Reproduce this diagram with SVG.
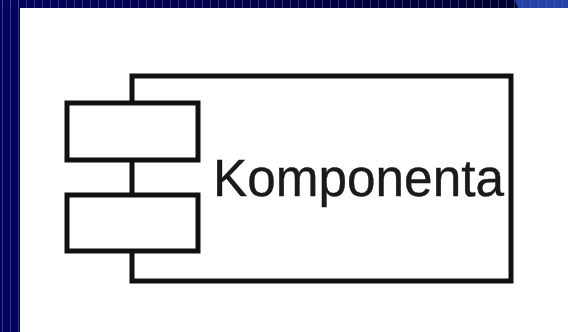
<svg xmlns="http://www.w3.org/2000/svg" width="568" height="332" viewBox="0 0 568 332">
  <defs>
    <linearGradient id="topband" x1="0" y1="0" x2="1" y2="0">
      <stop offset="0" stop-color="#04045e"/>
      <stop offset="1" stop-color="#00002c"/>
    </linearGradient>
    <pattern id="stripes" x="2" y="0" width="8" height="332" patternUnits="userSpaceOnUse">
      <rect x="0" y="0" width="1" height="332" fill="#5a5aa0" opacity="0.55"/>
    </pattern>
  </defs>
  <style>
    .box { fill: #ffffff; stroke: #111111; stroke-width: 5; stroke-linejoin: miter; }
    .label { font-family: "Liberation Sans", Arial, sans-serif; font-size: 51px; fill: #1a1a1a; stroke: #1a1a1a; stroke-width: 0.4; }
  </style>
  <!-- background -->
  <rect x="0" y="0" width="568" height="332" fill="#ffffff"/>
  <rect x="0" y="0" width="568" height="8" fill="url(#topband)"/>
  <polygon points="515,0 568,0 568,8 518,8" fill="#2444a8"/>
  <rect x="0" y="0" width="20" height="332" fill="#04045e"/>
  <rect x="0" y="0" width="568" height="8" fill="url(#stripes)"/>
  <rect x="0" y="0" width="20" height="332" fill="url(#stripes)"/>
  <rect x="20" y="8" width="548" height="324" fill="#ffffff"/>

  <g id="component">
    <rect class="box" x="132" y="76" width="379" height="205"/>
    <text class="label" x="213" y="196" textLength="291" lengthAdjust="spacingAndGlyphs">Komponenta</text>
  </g>
  <g id="port1">
    <rect class="box" x="67" y="103" width="131" height="57"/>
  </g>
  <g id="port2">
    <rect class="box" x="67" y="195" width="131" height="56"/>
  </g>
  <g id="connectors"></g>
</svg>
